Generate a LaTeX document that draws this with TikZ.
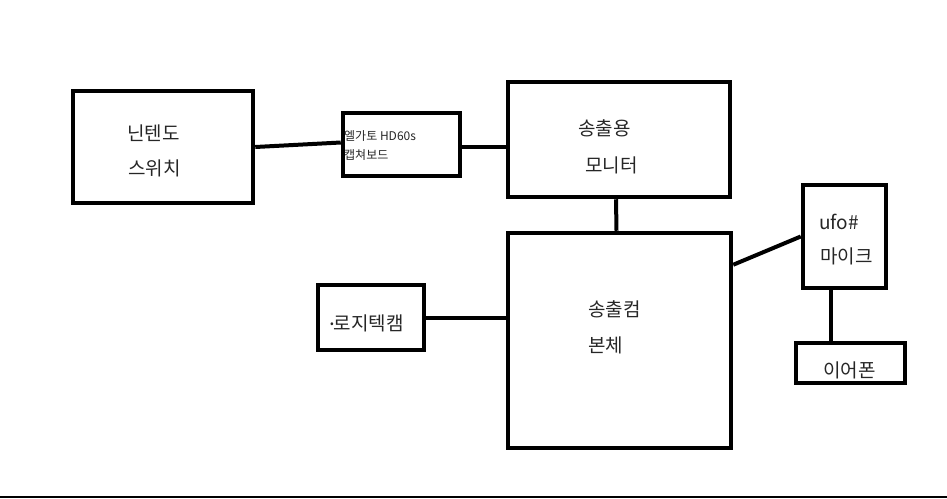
\documentclass[tikz,border=0pt]{standalone}
\usepackage{fontspec}
\newfontfamily\kofont{Noto Sans CJK KR}

\begin{document}
\begin{tikzpicture}[x=1pt,y=-1pt,
  box/.style={draw, line width=4.5pt, inner sep=0pt},
  wire/.style={line width=4pt},
  txt/.style={anchor=west, inner sep=0pt, text=black!85, font=\kofont\fontsize{19}{21}\selectfont},
  smalltxt/.style={txt, font=\kofont\fontsize{12}{13}\selectfont}]
  \useasboundingbox (0,0) rectangle (947,498);

  % Draw boxes
  \node[box, minimum width=180pt, minimum height=112pt] (switch) at (163,147) {};
  \node[box, minimum width=117pt, minimum height=63pt] (capture) at (401.5,144.5) {};
  \node[box, minimum width=222pt, minimum height=115pt] (monitor) at (619,139.5) {};
  \node[box, minimum width=223pt, minimum height=215pt] (pc) at (619.5,340.5) {};
  \node[box, minimum width=106pt, minimum height=65pt] (cam) at (371,317.5) {};
  \node[box, minimum width=83pt, minimum height=103pt] (mic) at (844.5,236.5) {};
  \node[box, minimum width=109pt, minimum height=40pt] (ear) at (850.5,363) {};

  % Texts in the boxes
  \node[txt] (switchA) at (127,133) {닌텐도};
  \node[txt] (switchB) at (128,168.5) {스위치};
  \node[smalltxt] (captureA) at (344,136) {엘가토 HD60s};
  \node[smalltxt] (captureB) at (344,155) {캡쳐보드};
  \node[txt] (monitorA) at (578,128) {송출용};
  \node[txt] (monitorB) at (585,165) {모니터};
  \node[txt] (pcA) at (588,309) {송출컴};
  \node[txt] (pcB) at (588,345) {본체};
  \node[txt] (camA) at (330,323) {\raisebox{2.5pt}{\fontsize{11}{11}\selectfont •}로지텍캠};
  \node[txt] (micA) at (819,222) {ufo\#};
  \node[txt] (micB) at (820,256) {마이크};
  \node[txt] (earA) at (823,370) {이어폰};

  % Cables
  \draw[wire] (switch.east) -- ([yshift=2pt]capture.west);
  \draw[wire] ([yshift=-2pt]capture.east) -- ([yshift=-2pt]capture.east -| monitor.west);
  \draw[wire] ([xshift=-3pt]monitor.south) -- ([xshift=-3pt]pc.north);
  \draw[wire] (cam.east) -- (cam.east -| pc.west);
  \draw[wire] ([yshift=-34pt]pc.north east) -- (mic.west);
  \draw[wire] ([xshift=-14pt]mic.south) -- ([xshift=-14pt]mic.south |- ear.north);

  % Line along the bottom
  \draw[line width=1.5pt] (0,497) -- (947,497);
\end{tikzpicture}
\end{document}
